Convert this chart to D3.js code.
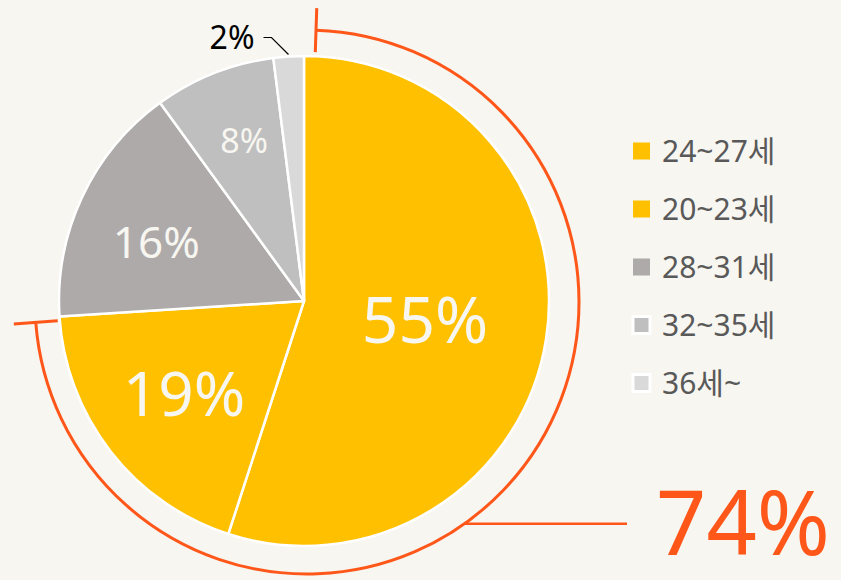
<!DOCTYPE html>
<html>
<head>
<meta charset="utf-8">
<script src="https://cdn.jsdelivr.net/npm/d3@7"></script>
<style>
  html, body { margin: 0; padding: 0; background: #F7F6F0; }
  text { font-family: "Noto Sans", "Noto Sans CJK KR", sans-serif; }
</style>
</head>
<body>
<script>
var width = 841, height = 580;

// age groups in slice order (clockwise from top)
var categories = ["24~27세", "20~23세", "28~31세", "32~35세", "36세~"];
var shares = [55, 19, 16, 8, 2];
var colors = ["#FFC000", "#FFC000", "#AEAAAA", "#BFBFBF", "#D9D9D9"];
var highlightCount = 2;   // first two groups are summed in the bracket
var highlightLabel = "74%";

var cx = 304, cy = 301, radius = 245;
var orange = "#FF5719";

var svg = d3.select("body").append("svg")
    .attr("width", width)
    .attr("height", height);

svg.append("rect").attr("width", width).attr("height", height).attr("fill", "#F7F6F0");

var pie = d3.pie().sort(null).value(function(d) { return d; });
var arcs = pie(shares);
var arc = d3.arc().innerRadius(0).outerRadius(radius);

var g = svg.append("g").attr("transform", "translate(" + cx + "," + cy + ")");

g.selectAll("path.slice")
    .data(arcs)
    .enter().append("path")
    .attr("class", "slice")
    .attr("d", arc)
    .attr("fill", function(d, i) { return colors[i]; })
    .attr("stroke", "#ffffff")
    .attr("stroke-width", 2.5)
    .attr("stroke-linejoin", "round");

// labels inside slices: radius fraction, nudge and font size per slice
var labelR = [0.50, 0.62, 0.68, 0.72, 0];
var labelNudge = [[0, 0], [0, 0], [3, 12], [5, 4], [0, 0]];
var labelSize = [64, 62, 44, 34, 32];
arcs.forEach(function(d, i) {
  if (i === 4) return;
  var a = (d.startAngle + d.endAngle) / 2;
  var r = radius * labelR[i];
  g.append("text")
      .attr("x", Math.sin(a) * r + labelNudge[i][0])
      .attr("y", -Math.cos(a) * r + labelNudge[i][1])
      .attr("dy", "0.36em")
      .attr("text-anchor", "middle")
      .attr("font-size", labelSize[i])
      .attr("fill", "#F7F6F0")
      .text(shares[i] + "%");
});

// the small slice gets an outside label with leader
(function() {
  var d = arcs[4];
  var a = (d.startAngle + d.endAngle) / 2;
  var p0 = [Math.sin(a) * (radius + 2), -Math.cos(a) * (radius + 2)];
  var p1 = [p0[0] - 17, p0[1] - 17];
  var p2 = [p1[0] - 8, p1[1]];
  g.append("polyline")
      .attr("points", [p0, p1, p2].map(function(p) { return p.join(","); }).join(" "))
      .attr("fill", "none")
      .attr("stroke", "#000")
      .attr("stroke-width", 1.2);
  g.append("text")
      .attr("x", p2[0] - 9)
      .attr("y", p2[1])
      .attr("dy", "0.36em")
      .attr("text-anchor", "end")
      .attr("font-size", 32)
      .attr("fill", "#000")
      .text(shares[4] + "%");
})();

// bracket arc around the first two groups
var bx = 307, by = 302, bR = 272;
var deg = Math.PI / 180;
var bStart = arcs[0].startAngle + 1.9 * deg;
var bEnd = arcs[highlightCount - 1].endAngle - 0.7 * deg;
var bg = svg.append("g").attr("transform", "translate(" + bx + "," + by + ")");

bg.append("path")
    .attr("d", d3.arc().innerRadius(bR).outerRadius(bR).startAngle(bStart).endAngle(bEnd)())
    .attr("fill", "none")
    .attr("stroke", orange)
    .attr("stroke-width", 3);

[bStart, bEnd].forEach(function(a) {
  bg.append("line")
      .attr("x1", Math.sin(a) * (bR - 22))
      .attr("y1", -Math.cos(a) * (bR - 22))
      .attr("x2", Math.sin(a) * (bR + 22))
      .attr("y2", -Math.cos(a) * (bR + 22))
      .attr("stroke", orange)
      .attr("stroke-width", 3);
});

// pointer line to the total
var pa = 144.6 * deg;
var px = Math.sin(pa) * bR, py = -Math.cos(pa) * bR;
bg.append("line")
    .attr("x1", px).attr("y1", py)
    .attr("x2", 627 - bx).attr("y2", py)
    .attr("stroke", orange)
    .attr("stroke-width", 2.5);

svg.append("text")
    .attr("x", 656)
    .attr("y", 555)
    .attr("font-size", 90)
    .attr("textLength", 174)
    .attr("lengthAdjust", "spacingAndGlyphs")
    .attr("fill", orange)
    .text(highlightLabel);

// legend
var legend = svg.append("g").attr("transform", "translate(633,151)");
var item = legend.selectAll("g")
    .data(categories)
    .enter().append("g")
    .attr("transform", function(d, i) { return "translate(0," + i * 58 + ")"; });

item.append("rect")
    .attr("x", 0).attr("y", -8.5)
    .attr("width", 17).attr("height", 17)
    .attr("fill", function(d, i) { return colors[i]; })
    .attr("stroke", function(d, i) { return i >= 3 ? "#ffffff" : "none"; })
    .attr("stroke-width", 3);

item.append("text")
    .attr("x", 29)
    .attr("y", 0)
    .attr("dy", "0.36em")
    .attr("font-size", 30)
    .attr("fill", "#595959")
    .text(function(d) { return d; });
</script>
</body>
</html>
